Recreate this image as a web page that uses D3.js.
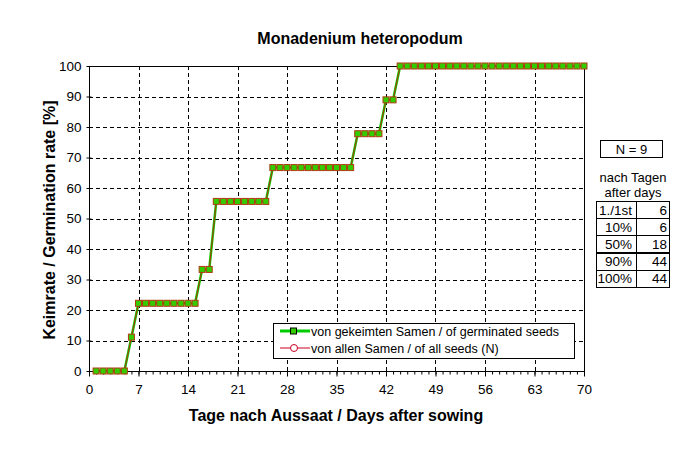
<!DOCTYPE html>
<html><head><meta charset="utf-8">
<script src="https://cdn.jsdelivr.net/npm/d3@7"></script>
<style>body{margin:0;background:#fff}svg{display:block}text{font-family:"Liberation Sans",Arial,sans-serif;fill:#000}</style>
</head><body>
<svg id="c" width="700" height="450"></svg>
<script>
const days = [1,2,3,4,5,6,7,8,9,10,11,12,13,14,15,16,17,18,19,20,21,22,23,24,25,26,27,28,29,30,31,32,33,34,35,36,37,38,39,40,41,42,43,44,45,46,47,48,49,50,51,52,53,54,55,56,57,58,59,60,61,62,63,64,65,66,67,68,69,70];
const germinated = [0,0,0,0,0,11.1,22.2,22.2,22.2,22.2,22.2,22.2,22.2,22.2,22.2,33.3,33.3,55.6,55.6,55.6,55.6,55.6,55.6,55.6,55.6,66.7,66.7,66.7,66.7,66.7,66.7,66.7,66.7,66.7,66.7,66.7,66.7,77.8,77.8,77.8,77.8,88.9,88.9,100,100,100,100,100,100,100,100,100,100,100,100,100,100,100,100,100,100,100,100,100,100,100,100,100,100,100];
const allSeeds = [0,0,0,0,0,11.1,22.2,22.2,22.2,22.2,22.2,22.2,22.2,22.2,22.2,33.3,33.3,55.6,55.6,55.6,55.6,55.6,55.6,55.6,55.6,66.7,66.7,66.7,66.7,66.7,66.7,66.7,66.7,66.7,66.7,66.7,66.7,77.8,77.8,77.8,77.8,88.9,88.9,100,100,100,100,100,100,100,100,100,100,100,100,100,100,100,100,100,100,100,100,100,100,100,100,100,100,100];
const xTicks = [0,7,14,21,28,35,42,49,56,63,70];
const yTicks = [0,10,20,30,40,50,60,70,80,90,100];
const seriesNames = ["von gekeimten Samen / of germinated seeds","von allen Samen / of all seeds (N)"];
const title = "Monadenium heteropodum";
const xLabel = "Tage nach Aussaat / Days after sowing";
const yLabel = "Keimrate / Germination rate [%]";
const nLabel = "N = 9";
const tableHead = ["nach Tagen","after days"];
const tableRows = ["1./1st","10%","50%","90%","100%"];
const tableVals = [6,6,18,44,44];

const svg = d3.select("#c");
const L=89,R=584,T=66,B=371;
const x = d3.scaleLinear().domain([0,70]).range([L,R]);
const y = d3.scaleLinear().domain([0,100]).range([B,T]);

// grid
const g = svg.append("g");
g.selectAll(".vg").data(xTicks.slice(1,-1)).join("line")
 .attr("x1",d=>Math.round(x(d))+0.5).attr("x2",d=>Math.round(x(d))+0.5).attr("y1",T).attr("y2",B)
 .attr("stroke","#000").attr("stroke-dasharray","4,3");
g.selectAll(".hg").data(yTicks.slice(1,-1)).join("line")
 .attr("y1",d=>Math.round(y(d))+0.5).attr("y2",d=>Math.round(y(d))+0.5).attr("x1",L).attr("x2",R)
 .attr("stroke","#000").attr("stroke-dasharray","4,3");
svg.append("rect").attr("x",L+0.5).attr("y",T+0.5).attr("width",R-L).attr("height",B-T)
 .attr("fill","none").attr("stroke","#000");

// axes
const xa = svg.append("g").attr("transform",`translate(0,${B+0.5})`)
 .call(d3.axisBottom(x).tickValues(xTicks).tickSize(5).tickPadding(8).tickFormat(d3.format("d")));
const xm = svg.append("g").attr("transform",`translate(0,${B+0.5})`)
 .call(d3.axisBottom(x).tickValues(days).tickSize(3).tickFormat(""));
const ya = svg.append("g").attr("transform",`translate(${L+0.5},0)`)
 .call(d3.axisLeft(y).tickValues(yTicks).tickSize(3).tickPadding(5));
[xa,xm,ya].forEach(a=>{a.select(".domain").remove();a.selectAll("line").attr("stroke","#000");
 a.selectAll("text").style("font-family",'"Liberation Sans",Arial,sans-serif').style("font-size","13.5px").attr("fill","#000");});
ya.selectAll(".tick line").attr("x2",-3).attr("x1",2);

const pts = days.map((d,i)=>({d,v:germinated[i],a:allSeeds[i]}));
const line = d3.line().x(p=>x(p.d));
svg.append("path").attr("d",line.y(p=>y(p.v))(pts)).attr("fill","none").attr("stroke","#00cc00").attr("stroke-width",2.5);
svg.append("path").attr("d",line.y(p=>y(p.a))(pts)).attr("fill","none").attr("stroke","#b83000").attr("stroke-width",1);
svg.selectAll(".m").data(pts).join("rect")
 .attr("x",p=>x(p.d)-3).attr("y",p=>y(p.v)-3).attr("width",6).attr("height",6)
 .attr("fill","#33cc00").attr("stroke","#b03a10").attr("stroke-width",1);

// titles
svg.append("text").attr("x",360).attr("y",44).attr("text-anchor","middle").style("font-size","16px").style("font-weight","bold").text(title);
svg.append("text").attr("x",336).attr("y",421).attr("text-anchor","middle").style("font-size","16px").style("font-weight","bold").text(xLabel);
svg.append("text").attr("transform","translate(55,220) rotate(-90)").attr("text-anchor","middle").style("font-size","16px").style("font-weight","bold").text(yLabel);

// legend
const lg = svg.append("g");
lg.append("rect").attr("x",273.5).attr("y",323.5).attr("width",301).attr("height",35).attr("fill","#fff").attr("stroke","#000");
const ly=[331,348];
lg.append("line").attr("x1",280).attr("x2",310).attr("y1",ly[0]).attr("y2",ly[0]).attr("stroke","#00cc00").attr("stroke-width",3);
lg.append("rect").attr("x",290.5).attr("y",ly[0]-3).attr("width",6).attr("height",6).attr("fill","#33cc00").attr("stroke","#000");
lg.append("line").attr("x1",280).attr("x2",310).attr("y1",ly[1]).attr("y2",ly[1]).attr("stroke","#cc0022").attr("stroke-width",1);
lg.append("circle").attr("cx",294).attr("cy",ly[1]).attr("r",3.5).attr("fill","#fff").attr("stroke","#cc0022");
lg.selectAll(".lt").data(seriesNames).join("text").attr("x",311).attr("y",(d,i)=>ly[i]+4.5).style("font-size","12.5px").text(d=>d);

// N box and table
svg.append("rect").attr("x",600.5).attr("y",140.5).attr("width",62).attr("height",17).attr("fill","#fff").attr("stroke","#000");
svg.append("text").attr("x",631.5).attr("y",154).attr("text-anchor","middle").style("font-size","13px").text(nLabel);
svg.selectAll(".th").data(tableHead).join("text").attr("x",633).attr("y",(d,i)=>182+i*15).attr("text-anchor","middle").style("font-size","13px").text(d=>d);
const rowY = d3.scaleBand().domain(tableRows).range([201,287]);
const tb = svg.append("g");
tb.selectAll("rect").data(tableRows).join("rect").attr("x",596.5).attr("y",d=>Math.round(rowY(d))+0.5)
 .attr("width",73).attr("height",Math.round(rowY.bandwidth())).attr("fill","#fff").attr("stroke","#000");
tb.append("line").attr("x1",636.5).attr("x2",636.5).attr("y1",201).attr("y2",287).attr("stroke","#000");
tb.selectAll(".rl").data(tableRows).join("text").attr("x",632).attr("y",d=>rowY(d)+13.5).attr("text-anchor","end").style("font-size","13.5px").text(d=>d);
tb.selectAll(".rv").data(tableVals).join("text").attr("x",667).attr("y",(d,i)=>rowY(tableRows[i])+13.5).attr("text-anchor","end").style("font-size","13.5px").text(d=>d);
</script>
</body></html>
